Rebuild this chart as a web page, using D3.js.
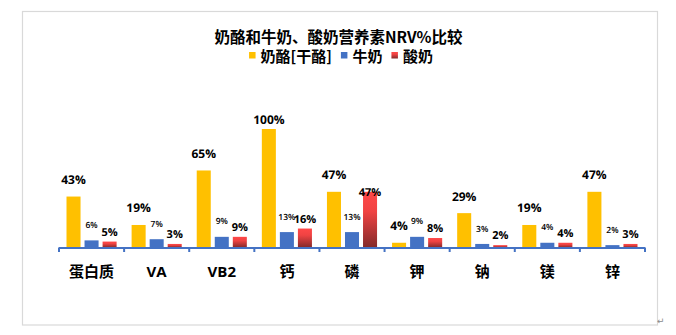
<!DOCTYPE html>
<html>
<head>
<meta charset="utf-8">
<script src="https://cdn.jsdelivr.net/npm/d3@7"></script>
<style>
  html, body { margin: 0; padding: 0; background: #fff; }
  svg { display: block; }
</style>
</head>
<body>
<svg id="chart" width="676" height="335"></svg>
<script>
const title = "奶酪和牛奶、酸奶营养素NRV%比较";
const categories = ["蛋白质", "VA", "VB2", "钙", "磷", "钾", "钠", "镁", "锌"];
const seriesNames = ["奶酪[干酪]", "牛奶", "酸奶"];
const cheese = [43, 19, 65, 100, 47, 4, 29, 19, 47];
const milk = [6, 7, 9, 13, 13, 9, 3, 4, 2];
const yogurt = [5, 3, 9, 16, 47, 8, 2, 4, 3];

const FONT = '"Open Sans","Noto Sans CJK SC",sans-serif';
const CJK = '"Noto Sans CJK SC","Open Sans",sans-serif';
const colors = ["#FFC000", "#4472C4", "url(#redGrad)"];

const svg = d3.select("#chart");

// gradient for yogurt bars
const defs = svg.append("defs");
const g = defs.append("linearGradient").attr("id", "redGrad")
  .attr("x1", 0).attr("y1", 0).attr("x2", 0).attr("y2", 1);
g.append("stop").attr("offset", "0%").attr("stop-color", "#FF4848");
g.append("stop").attr("offset", "35%").attr("stop-color", "#F04343");
g.append("stop").attr("offset", "100%").attr("stop-color", "#832A2A");

// outer frame
svg.append("rect").attr("x", 22.5).attr("y", 11.5).attr("width", 635).attr("height", 313.5)
  .attr("fill", "#fff").attr("stroke", "#D9D9D9").attr("stroke-width", 1.2);
svg.append("text").attr("x", 657).attr("y", 324).attr("font-size", 9)
  .attr("font-family", "DejaVu Sans").attr("fill", "#8a8a8a").text("↵");

// title
svg.append("text").attr("x", 338.5).attr("y", 42.5).attr("text-anchor", "middle")
  .attr("font-family", CJK).attr("font-weight", "bold").attr("font-size", 15.5)
  .attr("fill", "#000").text(title);

// legend
const legend = svg.append("g");
let lx = 0;
seriesNames.forEach((name, i) => {
  const item = legend.append("g").attr("transform", `translate(${lx},0)`);
  item.append("rect").attr("x", 0).attr("y", 52).attr("width", 6.5).attr("height", 6.5)
    .attr("fill", colors[i]);
  const t = item.append("text").attr("x", 11.5).attr("y", 62)
    .attr("font-family", CJK).attr("font-weight", "bold").attr("font-size", 15)
    .attr("fill", "#000").text(name);
  const w = t.node().getComputedTextLength();
  lx += 11.5 + w + 9;
});
const legendW = lx - 9;
legend.attr("transform", `translate(${341 - legendW / 2},0)`);

// scales
const x = d3.scaleBand().domain(categories).range([59, 645]);
const seriesIdx = [0, 1, 2];
const bw = x.bandwidth();
const x1 = d3.scaleBand().domain(seriesIdx).range([7.5, bw - 7.5]).paddingInner(0.222);
const y = d3.scaleLinear().domain([0, 100]).range([247.5, 129]);

const data = categories.map((c, i) => ({ c, v: [cheese[i], milk[i], yogurt[i]] }));

const groups = svg.append("g").selectAll("g").data(data).join("g")
  .attr("transform", d => `translate(${x(d.c)},0)`);

groups.selectAll("rect").data(d => d.v.map((v, s) => ({ v, s }))).join("rect")
  .attr("x", d => x1(d.s)).attr("width", x1.bandwidth())
  .attr("y", d => y(d.v)).attr("height", d => y(0) - y(d.v))
  .attr("fill", d => colors[d.s]);

// value labels
const labelStyle = [
  { size: 12, weight: "bold" },
  { size: 8.5, weight: 600 },
  { size: 11, weight: "bold" }
];
function labelY(d) {
  const top = y(d.v);
  if (d.s === 0) return Math.max(top - 12.5, 123.5);
  if (d.s === 1) return top - 12.4;
  return d.v > 40 ? top + 4.5 : top - 6;
}
groups.selectAll("text.val").data(d => d.v.map((v, s) => ({ v, s }))).join("text")
  .attr("class", "val")
  .attr("x", d => x1(d.s) + x1.bandwidth() / 2)
  .attr("y", labelY)
  .attr("text-anchor", "middle")
  .attr("font-family", FONT)
  .attr("font-size", d => labelStyle[d.s].size)
  .attr("font-weight", d => labelStyle[d.s].weight)
  .attr("fill", "#000")
  .style("text-rendering", "geometricPrecision")
  .text(d => d.v + "%");

// axis
const axisG = svg.append("g");
axisG.append("line").attr("x1", 59).attr("x2", 645).attr("y1", y(0) + 0.5).attr("y2", y(0) + 0.5)
  .attr("stroke", "#4472C4").attr("stroke-width", 2);
const bounds = categories.map(c => x(c)).concat([x.range()[1]]);
axisG.selectAll("line.tick").data(bounds).join("line").attr("class", "tick")
  .attr("x1", d => d).attr("x2", d => d)
  .attr("y1", y(0)).attr("y2", y(0) + 4.5)
  .attr("stroke", "#4472C4").attr("stroke-width", 2);

const labels = svg.append("g").attr("transform", `translate(0,${y(0)})`)
  .call(d3.axisBottom(x).tickSize(0).tickPadding(0));
labels.select(".domain").remove();
labels.selectAll("text")
  .attr("y", 29.5).attr("dy", 0)
  .attr("font-family", FONT).attr("font-weight", "bold").attr("font-size", 15)
  .attr("fill", "#000");
</script>
</body>
</html>
